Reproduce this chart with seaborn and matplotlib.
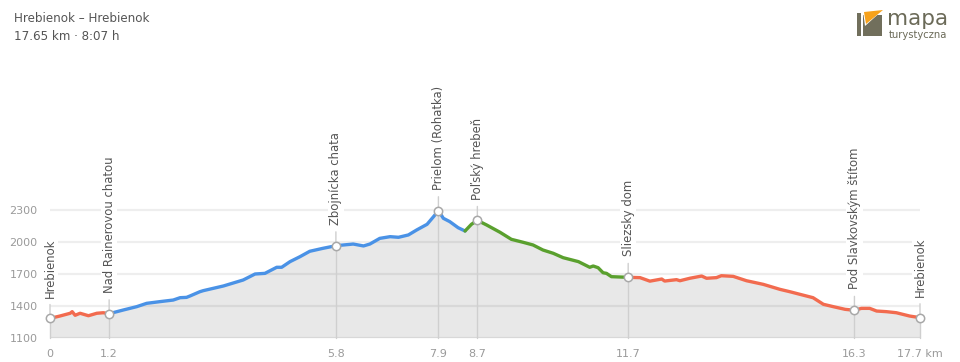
import matplotlib
matplotlib.use("Agg")
import matplotlib.pyplot as plt
import seaborn as sns
import numpy as np
import pandas as pd
from matplotlib.patches import Polygon, Rectangle

# ==========================================
#             DATA
# ==========================================

title = "Hrebienok – Hrebienok"
subtitle = "17.65 km · 8:07 h"

dist_km = [0.00, 0.20, 0.41, 0.45, 0.51, 0.61, 0.78, 0.95, 1.08, 1.20,
           1.49, 1.76, 1.96, 2.23, 2.50, 2.64, 2.77, 2.84, 3.04, 3.11,
           3.52, 3.92, 4.16, 4.36, 4.60, 4.70, 4.87, 5.07, 5.27, 5.54,
           5.81, 6.09, 6.15, 6.36, 6.49, 6.69, 6.90, 7.07, 7.27, 7.44,
           7.65, 7.78, 7.88, 7.98, 8.11, 8.28, 8.42, 8.55, 8.67, 8.86,
           9.13, 9.36, 9.60, 9.80, 10.00, 10.21, 10.41, 10.72, 10.95, 11.02,
           11.12, 11.22, 11.29, 11.39, 11.73, 11.97, 12.17, 12.41, 12.47, 12.71,
           12.78, 12.98, 13.22, 13.32, 13.52, 13.62, 13.86, 14.13, 14.47, 14.81,
           15.01, 15.21, 15.48, 15.69, 15.89, 16.13, 16.32, 16.46, 16.63, 16.77,
           16.97, 17.17, 17.44, 17.65]
elev_m = [1281, 1303, 1329, 1344, 1310, 1329, 1306, 1329, 1334, 1325,
          1360, 1391, 1422, 1438, 1453, 1475, 1478, 1491, 1531, 1541,
          1585, 1641, 1697, 1703, 1760, 1760, 1813, 1859, 1910, 1938,
          1963, 1975, 1978, 1960, 1978, 2031, 2047, 2041, 2063, 2110,
          2163, 2234, 2291, 2219, 2188, 2131, 2100, 2163, 2200, 2156,
          2088, 2022, 1994, 1969, 1922, 1891, 1850, 1813, 1760, 1772,
          1756, 1709, 1703, 1672, 1666, 1663, 1630, 1650, 1631, 1644,
          1634, 1657, 1678, 1657, 1663, 1681, 1675, 1634, 1600, 1553,
          1531, 1507, 1475, 1413, 1391, 1366, 1357, 1375, 1375, 1350,
          1344, 1334, 1303, 1288]

# trail colour sections: (trail, start km, end km)
sections = [("red", 0.00, 1.20), ("blue", 1.20, 8.42),
            ("green", 8.42, 11.73), ("red", 11.73, 17.65)]
trail_colors = {"red": "#f26b4f", "blue": "#4a92e6", "green": "#5aa02e"}

waypoint_names = ["Hrebienok", "Nad Rainerovou chatou", "Zbojnícka chata",
                  "Prielom (Rohatka)", "Poľský hrebeň", "Sliezsky dom",
                  "Pod Slavkovským štítom", "Hrebienok"]
waypoint_km = [0.0, 1.2, 5.8, 7.88, 8.67, 11.73, 16.32, 17.65]
tick_labels = ["0", "1.2", "5.8", "7.9", "8.7", "11.7", "16.3", "17.7 km"]
y_ticks = [1100, 1400, 1700, 2000, 2300]

# ==========================================
#             PLOT
# ==========================================

sns.set_theme(style="white")
plt.rcParams["font.family"] = ["DejaVu Sans"]

km = np.array(dist_km)
ele = np.array(elev_m)

rows = []
for i, (trail, a, b) in enumerate(sections):
    m = (km >= a - 1e-9) & (km <= b + 1e-9)
    for x, y in zip(km[m], ele[m]):
        rows.append({"km": x, "ele": y, "trail": trail, "piece": i})
df = pd.DataFrame(rows)

fig = plt.figure(figsize=(9.6, 3.62), dpi=100)
ax = fig.add_axes([50 / 960, 24.3 / 362, 870 / 960, 138.7 / 362])
ax.set_xlim(0, 17.65)
ax.set_ylim(1100, 2400)

for yt in y_ticks:
    ax.axhline(yt, color="#eeeeee", lw=1.6, zorder=0)

ax.fill_between(km, ele, 1100, color="black", alpha=0.09, lw=0, zorder=1)

sns.lineplot(data=df, x="km", y="ele", hue="trail", units="piece",
             estimator=None, palette=trail_colors, linewidth=2.4,
             legend=False, ax=ax, zorder=3)

wp_ele = np.interp(waypoint_km, km, ele)
for name, x, y in zip(waypoint_names, waypoint_km, wp_ele):
    ax.plot([x, x], [1100, y], color="#cfcfcf", lw=1, zorder=2, clip_on=False)
    ax.annotate("", xy=(x, y), xytext=(0, 10), textcoords="offset points",
                arrowprops=dict(arrowstyle="-", color="#cfcfcf", lw=1,
                                shrinkA=0, shrinkB=0), zorder=2)
    ax.annotate(name, xy=(x, y), xytext=(0, 15), textcoords="offset points",
                rotation=90, ha="center", va="bottom", fontsize=8.4,
                color="#555555", zorder=5,
                bbox=dict(boxstyle="square,pad=0.15", fc="white", ec="none"))
    ax.plot(x, y, "o", ms=6, mfc="white", mec="#a8a8a8", mew=1.1,
            zorder=6, clip_on=False)

ax.set_xticks(waypoint_km)
ax.set_xticklabels(tick_labels)
ax.set_yticks(y_ticks)
ax.tick_params(axis="both", length=0, labelsize=8, colors="#9a9a9a")
ax.tick_params(axis="x", pad=8)
ax.tick_params(axis="y", pad=9)
ax.set_xlabel("")
ax.set_ylabel("")
for s in ax.spines.values():
    s.set_visible(False)

fig.text(14 / 960, 1 - 19 / 362, title, fontsize=8.6, color="#555555", va="center")
fig.text(14 / 960, 1 - 36 / 362, subtitle, fontsize=8.6, color="#555555", va="center")

# logo
lg = fig.add_axes([850 / 960, 1 - 42 / 362, 110 / 960, 38 / 362])
lg.set_xlim(850, 960)
lg.set_ylim(42, 4)
lg.axis("off")
lg.add_patch(Rectangle((857, 13), 4, 23, color="#716f5c", lw=0))
lg.add_patch(Rectangle((863, 15), 19, 21, color="#716f5c", lw=0))
lg.add_patch(Polygon([(863, 11), (884, 9), (865, 26)], closed=True,
                     color="white", lw=0))
lg.add_patch(Polygon([(864, 12), (883, 10), (866, 24)], closed=True,
                     color="#f7a21b", lw=0))
lg.text(887, 25, "mapa", fontsize=15.5, color="#6b6a58", va="baseline")
lg.text(888.5, 37.5, "turystyczna", fontsize=7.2, color="#6b6a58", va="baseline")

plt.savefig("out.png", dpi=100)
plt.close()
